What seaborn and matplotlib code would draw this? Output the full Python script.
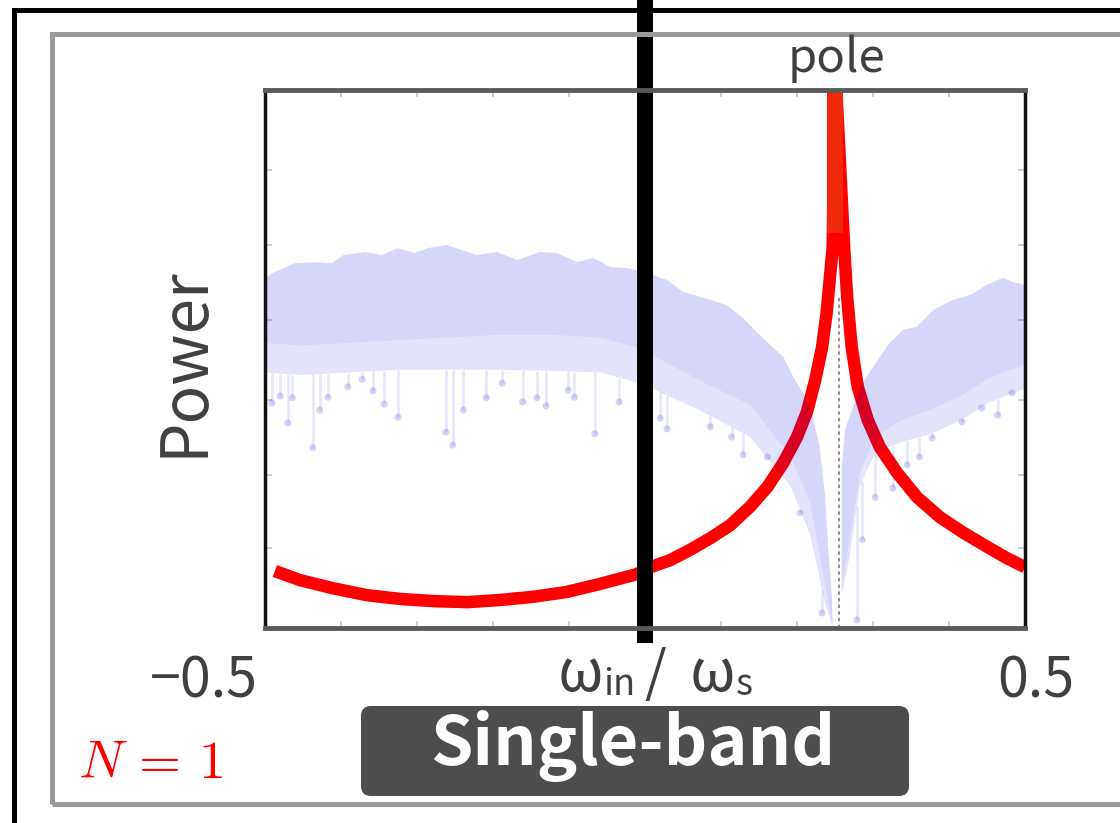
import numpy as np
import matplotlib
matplotlib.use("Agg")
import matplotlib.pyplot as plt
from matplotlib.patches import Rectangle, FancyBboxPatch
from matplotlib.transforms import Affine2D
import seaborn as sns

# ---------------------------------------------------------------- data
# single-pole filter response (normalised power)
response_x = [-0.487, -0.454, -0.411, -0.366, -0.322, -0.279, -0.234, -0.191, -0.147,
              -0.103, -0.059, -0.011, 0.007, 0.033, 0.059, 0.086, 0.112, 0.138, 0.161,
              0.182, 0.200, 0.213, 0.224, 0.233, 0.239, 0.243, 0.247,
              0.250,
              0.262, 0.266, 0.272, 0.280, 0.293, 0.309, 0.332, 0.358, 0.388, 0.418,
              0.450, 0.476, 0.500]
response_y = [0.106, 0.089, 0.074, 0.061, 0.054, 0.050, 0.048, 0.052, 0.058,
              0.067, 0.082, 0.100, 0.113, 0.126, 0.145, 0.167, 0.191, 0.225, 0.262,
              0.307, 0.355, 0.401, 0.461, 0.522, 0.586, 0.647, 0.708,
              1.050,
              0.708, 0.615, 0.522, 0.448, 0.387, 0.336, 0.288, 0.243, 0.206, 0.178,
              0.151, 0.130, 0.113]

pole_x = 0.25
pole_top = [0.734, 1.0]
pole_marker_x = 0.255
pole_marker_top = 0.615

# noisy input spectrum: outline of the dense band, left of the pole
band_left_top_x = [-0.500, -0.487, -0.461, -0.434, -0.412, -0.397, -0.368, -0.346, -0.325,
                   -0.303, -0.286, -0.261, -0.221, -0.195, -0.168, -0.138, -0.116, -0.089,
                   -0.068, -0.046, -0.024, 0.000, 0.020, 0.029, 0.050, 0.079, 0.108, 0.129,
                   0.147, 0.168, 0.182, 0.195, 0.208, 0.221, 0.230, 0.237, 0.241, 0.246, 0.247]
band_left_top_y = [0.651, 0.662, 0.678, 0.680, 0.678, 0.693, 0.699, 0.693, 0.706,
                   0.697, 0.706, 0.712, 0.693, 0.699, 0.684, 0.699, 0.697, 0.680,
                   0.688, 0.671, 0.669, 0.662, 0.651, 0.647, 0.625, 0.613, 0.600, 0.576,
                   0.550, 0.522, 0.504, 0.467, 0.437, 0.392, 0.336, 0.243, 0.151, 0.058, 0.0]
band_left_low_x = [-0.500, -0.454, -0.388, -0.322, -0.257, -0.191, -0.125, -0.059, -0.007,
                   0.072, 0.138, 0.191, 0.217, 0.237, 0.247]
band_left_dense_y = [0.530, 0.525, 0.530, 0.535, 0.540, 0.545, 0.545, 0.540, 0.520,
                     0.460, 0.415, 0.320, 0.235, 0.080, 0.0]
band_left_sparse_y = [0.475, 0.470, 0.475, 0.480, 0.480, 0.480, 0.478, 0.475, 0.455,
                      0.405, 0.355, 0.265, 0.175, 0.045, 0.0]

# right of the pole
band_right_top_x = [0.259, 0.263, 0.283, 0.300, 0.322, 0.339, 0.358, 0.379, 0.405,
                    0.428, 0.450, 0.471, 0.484, 0.500]
band_right_top_y = [0.300, 0.368, 0.448, 0.485, 0.530, 0.554, 0.560, 0.591, 0.610,
                    0.619, 0.638, 0.651, 0.643, 0.638]
band_right_low_x = [0.259, 0.270, 0.283, 0.303, 0.336, 0.375, 0.414, 0.454, 0.500]
band_right_dense_y = [0.076, 0.170, 0.290, 0.355, 0.385, 0.405, 0.430, 0.465, 0.490]
band_right_sparse_y = [0.060, 0.140, 0.265, 0.325, 0.345, 0.360, 0.385, 0.420, 0.445]

# isolated deep samples below the band
spike_x = [-0.491, -0.480, -0.470, -0.464, -0.437, -0.428, -0.417, -0.391, -0.372, -0.358,
           -0.343, -0.325, -0.262, -0.253, -0.239, -0.209, -0.188, -0.161, -0.142, -0.130,
           -0.101, -0.093, -0.066, -0.034, 0.020, 0.029, 0.086, 0.114, 0.129, 0.161,
           0.204, 0.233, 0.279, 0.286, 0.303, 0.326, 0.345, 0.361, 0.378, 0.417,
           0.443, 0.464, 0.483]
spike_y = [0.418, 0.431, 0.381, 0.428, 0.335, 0.405, 0.429, 0.448, 0.462, 0.441,
           0.416, 0.392, 0.364, 0.340, 0.405, 0.428, 0.455, 0.420, 0.428, 0.413,
           0.442, 0.429, 0.361, 0.420, 0.390, 0.370, 0.374, 0.355, 0.322, 0.318,
           0.214, 0.028, 0.015, 0.164, 0.243, 0.260, 0.303, 0.318, 0.353, 0.383,
           0.409, 0.396, 0.437]

divider_x = 0.0
x_tick_labels = ["\u22120.5", "0.5"]
x_axis_label = ["\u03c9", "in", "/", "\u03c9", "s"]
y_axis_label = "Power"
pole_label = "pole"
band_label = "Single-band"
order_label = r"$N\,=\,1$"

# ---------------------------------------------------------------- style
sns.set_theme(style="white")
plt.rcParams["font.family"] = ["Noto Sans CJK JP", "DejaVu Sans"]
plt.rcParams["mathtext.fontset"] = "cm"

W, H = 1120, 823
fig = plt.figure(figsize=(W / 100, H / 100), dpi=100)
fig.patch.set_facecolor("white")
pix = Affine2D().scale(1 / W, 1 / H) + fig.transFigure


def Y(py):
    return H - py


ax = fig.add_axes([265 / W, 1 - 628 / H, 760 / W, 538 / H])
ax.set_xlim(-0.5, 0.5)
ax.set_ylim(0, 1)

BLUE = (0, 0, 225 / 255)
TXT = "#404040"

# filter response (drawn first so the translucent spectrum tints it)
sns.lineplot(x=response_x, y=response_y, sort=False, estimator=None, ax=ax,
             color="#ff0000", linewidth=9, solid_capstyle="butt",
             solid_joinstyle="round", zorder=2)
ax.plot([pole_x, pole_x], pole_top, color="#f0280c", linewidth=11.5,
        solid_capstyle="butt", zorder=2.5)

# spectrum bands
ax.fill(np.r_[band_left_top_x, band_left_low_x[::-1]],
        np.r_[band_left_top_y, band_left_dense_y[::-1]],
        color=BLUE, alpha=0.16, lw=0, zorder=3)
ax.fill(np.r_[band_left_low_x, band_left_low_x[::-1]],
        np.r_[band_left_dense_y, band_left_sparse_y[::-1]],
        color=BLUE, alpha=0.11, lw=0, zorder=3)
ax.fill(np.r_[band_right_top_x, band_right_low_x[::-1]],
        np.r_[band_right_top_y, band_right_dense_y[::-1]],
        color=BLUE, alpha=0.16, lw=0, zorder=3)
ax.fill(np.r_[band_right_low_x, band_right_low_x[::-1]],
        np.r_[band_right_dense_y, band_right_sparse_y[::-1]],
        color=BLUE, alpha=0.11, lw=0, zorder=3)

low_x = np.r_[band_left_low_x, band_right_low_x]
low_y = np.r_[band_left_sparse_y, band_right_sparse_y]
ax.vlines(spike_x, spike_y, np.interp(spike_x, low_x, low_y),
          color=BLUE, alpha=0.10, linewidth=1.8, zorder=3)
sns.scatterplot(x=spike_x, y=spike_y, ax=ax, s=26, color=BLUE, alpha=0.17,
                edgecolor="none", zorder=3, legend=False)

# pole marker
ax.plot([pole_marker_x, pole_marker_x], [0, pole_marker_top], color="#777777",
        linewidth=1.2, linestyle=(0, (2, 2)), zorder=3.5)

# divider bar
ax.axvline(divider_x, ymin=-0.028, ymax=1.2, color="black", linewidth=11.5,
           solid_capstyle="butt", clip_on=False, zorder=10)

# frame and ticks
ax.set_xticks(np.arange(-0.5, 0.51, 0.1))
ax.set_yticks([0.149, 0.284, 0.424, 0.572, 0.712, 0.851])
ax.set_xticklabels([])
ax.set_yticklabels([])
ax.tick_params(direction="in", length=5, width=1.2, color="#c4c4c4",
               top=True, right=True, left=True, bottom=True)
for side in ("left", "right"):
    ax.spines[side].set(color="#111111", linewidth=2.5, zorder=11)
for side in ("top", "bottom"):
    ax.spines[side].set(color="#5a5a5a", linewidth=3.5, zorder=11)
ax.set_xlabel("")
ax.set_ylabel("")

# outer frames
fig.patches.append(Rectangle((14, -50), 2000, Y(9.5) + 50, transform=pix,
                             fill=False, edgecolor="black", linewidth=3.6))
fig.patches.append(Rectangle((52, Y(803.5)), 2000, 803.5 - 33.5, transform=pix,
                             fill=False, edgecolor="#999999", linewidth=3.6))

# tick-end labels
fig.text(258, Y(697), x_tick_labels[0], transform=pix, ha="right", va="baseline",
         fontsize=40, color=TXT)
fig.text(1036, Y(697), x_tick_labels[1], transform=pix, ha="center", va="baseline",
         fontsize=40, color=TXT)

# x-axis label built from pieces (normalised frequency with subscripts)
piece_sizes = [42, 26, 40, 42, 26]
piece_base = [691, 695, 691, 691, 695]
piece_gap = [0, 9, 24, 0]
renderer = fig.canvas.get_renderer()
pieces = [fig.text(0, Y(b), s, transform=pix, ha="left", va="baseline",
                   fontsize=fs, color=TXT)
          for s, fs, b in zip(x_axis_label, piece_sizes, piece_base)]
widths = [p.get_window_extent(renderer).width for p in pieces]
total = sum(widths) + sum(piece_gap)
cursor = 655 - total / 2
for i, p in enumerate(pieces):
    p.set_x(cursor)
    cursor += widths[i] + (piece_gap[i] if i < len(piece_gap) else 0)

fig.text(184, Y(362), y_axis_label, transform=pix, rotation=90, ha="center",
         va="center", fontsize=46, color=TXT)
fig.text(837, Y(72), pole_label, transform=pix, ha="center", va="baseline",
         fontsize=34, color=TXT)

fig.patches.append(FancyBboxPatch((371, Y(796) + 10), 528, 70,
                                  boxstyle="round,pad=10", transform=pix,
                                  facecolor="#4d4d4d", edgecolor="none"))
fig.text(633, Y(765), band_label, transform=pix, ha="center", va="baseline",
         fontsize=49, fontweight="bold", color="white")
fig.text(78, Y(778), order_label, transform=pix, ha="left", va="baseline",
         fontsize=39, color="#ff0000")

fig.savefig("out.png", dpi=100)
